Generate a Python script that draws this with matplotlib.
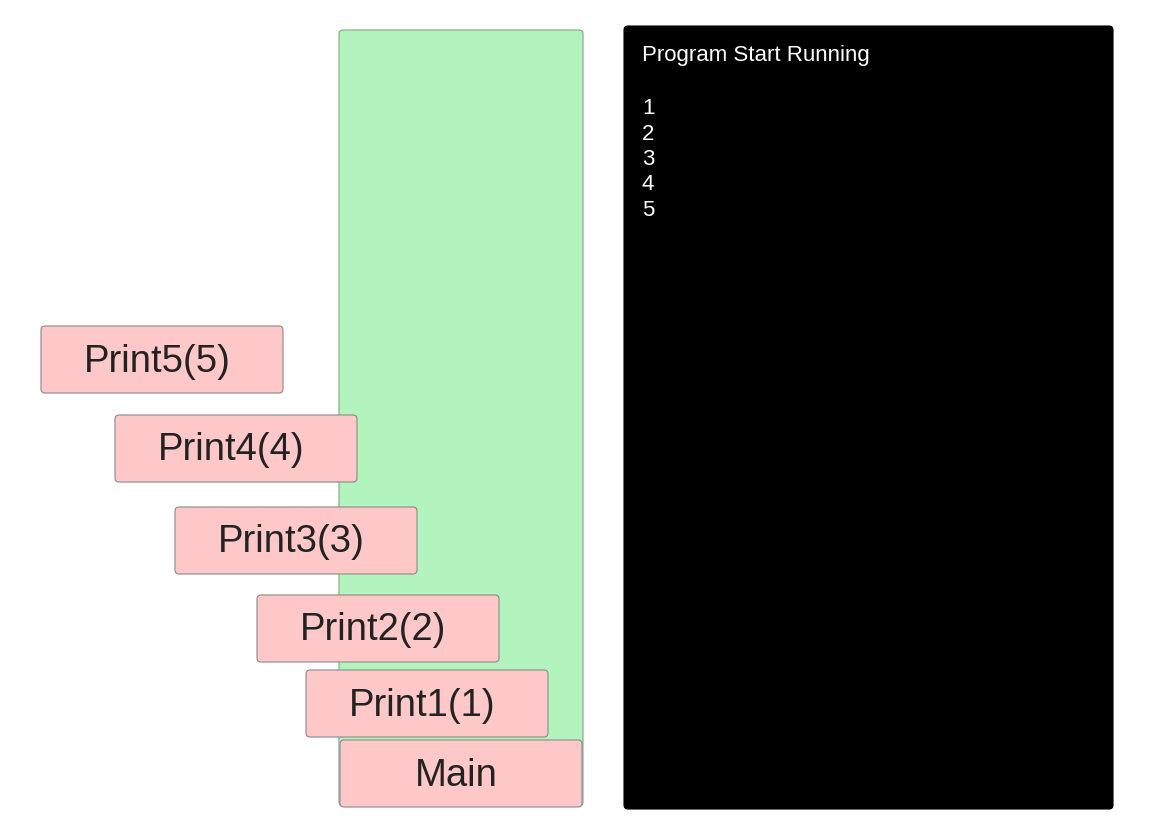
import matplotlib
matplotlib.use("Agg")
import matplotlib.pyplot as plt
from matplotlib.patches import FancyBboxPatch

plt.rcParams['font.family'] = ['Liberation Sans', 'DejaVu Sans']

# Data
frame_labels = ["Main", "Print1(1)", "Print2(2)", "Print3(3)", "Print4(4)", "Print5(5)"]
console_title = "Program Start Running"
console_output = ["1", "2", "3", "4", "5"]

# Layout (pixel coordinates, y downward)
frame_left = [340, 306, 257, 175, 115, 41]
frame_top = [740, 670, 595, 507, 415, 326]
frame_w, frame_h = 242, 67

W, H = 1154, 821
fig = plt.figure(figsize=(W / 100, H / 100), dpi=100)
ax = fig.add_axes([0, 0, 1, 1])
ax.set_xlim(0, W)
ax.set_ylim(H, 0)
ax.axis("off")

def rbox(x0, y0, x1, y1, fc, ec="#8a8a8a", r=4, z=1):
    p = FancyBboxPatch((x0, y0), x1 - x0, y1 - y0,
                       boxstyle=f"round,pad=0,rounding_size={r}",
                       fc=fc, ec=ec, lw=0.8, zorder=z)
    ax.add_patch(p)

# green stack region
rbox(339, 30, 583, 806, "#b3f3bd", ec="#7fa884", z=1)

# frames
for lab, x0, y0 in zip(frame_labels, frame_left, frame_top):
    rbox(x0, y0, x0 + frame_w, y0 + frame_h, "#ffc8c8", ec="#8a8a8a", z=2)
    ax.text(x0 + frame_w / 2 - 5, y0 + frame_h / 2 + 2, lab, fontsize=27.5,
            ha="center", va="center", color="#222222", zorder=3)

# console
rbox(624, 26, 1113, 809, "#000000", ec="#000000", r=4, z=1)
ax.text(642, 56, console_title, fontsize=16, color="white", ha="left", va="center")
for i, s in enumerate(console_output):
    ax.text(642, 109 + i * 25.3, s, fontsize=16, color="white", ha="left", va="center")

fig.savefig("out.png", dpi=100, facecolor="white")
